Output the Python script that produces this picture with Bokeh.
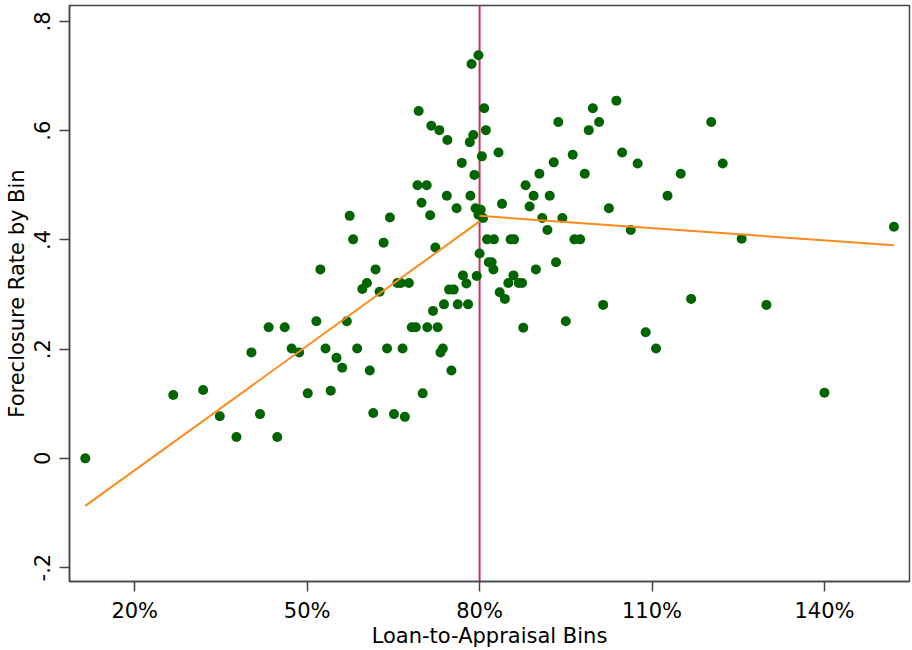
import math
from bokeh.plotting import figure
from bokeh.models import FixedTicker, Span, Range1d
from bokeh.embed import file_html
from bokeh.resources import INLINE

# Loan-to-appraisal bin (%) and foreclosure rate by bin
ltv = [11.4, 26.7, 31.9, 34.8, 37.7, 40.3, 41.8, 43.3, 44.8, 46.1,
       47.3, 48.6, 50.1, 51.6, 52.3, 53.2, 54.1, 55.1, 56.1, 56.9,
       57.4, 58.0, 58.7, 59.6, 60.4, 60.9, 61.5, 61.9, 62.6, 63.3,
       63.9, 64.4, 65.1, 65.7, 66.3, 66.6, 67.0, 67.7, 68.2, 68.9,
       69.2, 69.4, 69.9, 70.1, 70.8, 70.9, 71.4, 71.6, 71.9, 72.3,
       72.7, 73.0, 73.2, 73.6, 73.8, 74.3, 74.4, 74.7, 75.1, 75.5,
       76.0, 76.2, 76.9, 77.1, 77.7, 78.0, 78.3, 78.4, 78.6, 78.9,
       79.1, 79.3, 79.5, 79.8, 79.8, 80.0, 80.2, 80.4, 80.6, 80.8,
       81.1, 81.3, 81.6, 82.1, 82.4, 82.5, 83.3, 83.5, 83.9, 84.4,
       85.0, 85.4, 85.9, 86.0, 86.8, 87.4, 87.6, 88.0, 88.7, 89.4,
       89.8, 90.4, 90.9, 91.8, 92.2, 92.9, 93.3, 93.7, 94.4, 95.0,
       96.2, 96.5, 97.5, 98.3, 99.0, 99.7, 100.8, 101.5, 102.5, 103.8,
       104.8, 106.3, 107.5, 108.9, 110.7, 112.7, 115.0, 116.8, 120.3, 122.3,
       125.6, 129.9, 140.0, 152.1]
rate = [0.000, 0.116, 0.125, 0.077, 0.039, 0.194, 0.081, 0.240, 0.039, 0.240,
        0.201, 0.194, 0.119, 0.251, 0.346, 0.201, 0.124, 0.184, 0.166, 0.251,
        0.444, 0.401, 0.201, 0.310, 0.321, 0.161, 0.083, 0.346, 0.305, 0.395,
        0.201, 0.441, 0.081, 0.321, 0.321, 0.201, 0.076, 0.321, 0.240, 0.240,
        0.500, 0.636, 0.468, 0.119, 0.500, 0.240, 0.445, 0.609, 0.270, 0.386,
        0.240, 0.601, 0.194, 0.201, 0.282, 0.481, 0.583, 0.309, 0.161, 0.309,
        0.458, 0.282, 0.541, 0.335, 0.320, 0.282, 0.579, 0.481, 0.722, 0.592,
        0.519, 0.458, 0.334, 0.738, 0.446, 0.375, 0.455, 0.553, 0.440, 0.641,
        0.601, 0.401, 0.359, 0.359, 0.346, 0.401, 0.560, 0.304, 0.466, 0.292,
        0.321, 0.401, 0.335, 0.401, 0.321, 0.321, 0.239, 0.500, 0.461, 0.481,
        0.346, 0.521, 0.440, 0.418, 0.481, 0.542, 0.359, 0.616, 0.440, 0.251,
        0.556, 0.401, 0.401, 0.521, 0.601, 0.641, 0.616, 0.281, 0.458, 0.655,
        0.560, 0.418, 0.540, 0.231, 0.201, 0.481, 0.521, 0.292, 0.616, 0.540,
        0.402, 0.281, 0.120, 0.424]

# fitted lines on each side of the 80% cutoff
fit_left_x = [11.4, 80.0]
fit_left_y = [-0.087, 0.434]
fit_right_x = [80.0, 152.1]
fit_right_y = [0.444, 0.390]
cutoff = 80.0

x_ticks = [20, 50, 80, 110, 140]
x_tick_labels = ["20%", "50%", "80%", "110%", "140%"]
y_ticks = [-0.2, 0.0, 0.2, 0.4, 0.6, 0.8]
y_tick_labels = ["-.2", "0", ".2", ".4", ".6", ".8"]

FONT = "DejaVu Sans"
FRAME = "#444444"

p = figure(width=912, height=650, output_backend="svg", toolbar_location=None,
           x_range=Range1d(8.65, 154.8), y_range=Range1d(-0.2255, 0.8292),
           min_border_left=69, min_border_right=3, min_border_top=5, min_border_bottom=67)
p.background_fill_color = "white"
p.border_fill_color = "white"
p.outline_line_color = FRAME
p.outline_line_width = 1.5
p.xgrid.visible = False
p.ygrid.visible = False

vline = Span(location=cutoff, dimension="height", line_color="#c8325a", line_width=2, level="underlay")
p.add_layout(vline)

p.scatter(ltv, rate, size=10, fill_color="#006400", line_color="#006400", line_width=0)
p.line(fit_left_x, fit_left_y, line_color="#ff8a1c", line_width=2)
p.line(fit_right_x, fit_right_y, line_color="#ff8a1c", line_width=2)

xa = p.xaxis[0]
xa.ticker = FixedTicker(ticks=x_ticks)
xa.major_label_overrides = {t: l for t, l in zip(x_ticks, x_tick_labels)}
xa.axis_label = "Loan-to-Appraisal Bins"

ya = p.yaxis[0]
ya.ticker = FixedTicker(ticks=y_ticks)
ya.major_label_overrides = {t: l for t, l in zip(y_ticks, y_tick_labels)}
ya.axis_label = "Foreclosure Rate by Bin"
ya.major_label_orientation = "vertical"

for ax in (xa, ya):
    ax.axis_line_color = FRAME
    ax.axis_line_width = 1.5
    ax.major_tick_line_color = FRAME
    ax.major_tick_line_width = 1.5
    ax.major_tick_out = 10
    ax.major_tick_in = 0
    ax.minor_tick_line_color = None
    ax.major_label_text_font = FONT
    ax.major_label_text_font_size = "21px"
    ax.major_label_text_color = "black"
    ax.axis_label_text_font = FONT
    ax.axis_label_text_font_size = "21px"
    ax.axis_label_text_font_style = "normal"
    ax.axis_label_text_color = "black"

xa.major_label_standoff = 7
xa.axis_label_standoff = -2
ya.major_label_standoff = 9
ya.axis_label_standoff = 3

open("out.html", "w").write(file_html(p, INLINE))
